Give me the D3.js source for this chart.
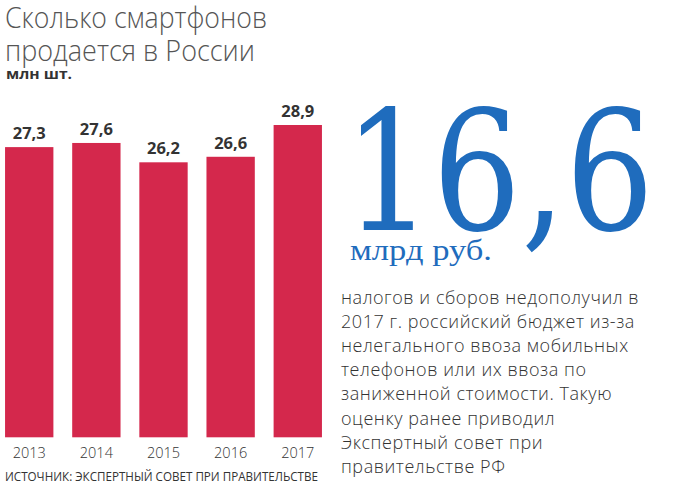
<!DOCTYPE html>
<html><head><meta charset="utf-8">
<script src="https://cdn.jsdelivr.net/npm/d3@7"></script>
<style>body{margin:0;background:#fff}svg{display:block}</style>
</head><body>
<script>
const years = ["2013","2014","2015","2016","2017"];
const values = [27.3, 27.6, 26.2, 26.6, 28.9];
const valueLabels = ["27,3","27,6","26,2","26,6","28,9"];
const titleLines = ["Сколько смартфонов","продается в России"];
const unitLabel = "млн шт.";
const sourceText = "ИСТОЧНИК: ЭКСПЕРТНЫЙ СОВЕТ ПРИ ПРАВИТЕЛЬСТВЕ";
const bigNumber = "16,6";
const bigUnit = "млрд руб.";
const paragraph = ["налогов и сборов недополучил в","2017 г. российский бюджет из-за","нелегального ввоза мобильных","телефонов или их ввоза по","заниженной стоимости. Такую","оценку ранее приводил","Экспертный совет при","правительстве РФ"];

const W = 695, H = 492;
const svg = d3.select("body").append("svg").attr("width", W).attr("height", H);
const sans = "'Open Sans', 'Noto Sans', sans-serif";
const titleWidths = [262, 250];

svg.selectAll("text.title").data(titleLines).join("text")
  .attr("x", 5).attr("y", (d,i)=>28 + i*33)
  .attr("font-family", sans).attr("font-weight", 300).attr("font-size", 30)
  .attr("textLength", (d,i)=>titleWidths[i]).attr("lengthAdjust","spacingAndGlyphs")
  .attr("fill", "#555").text(d=>d);
svg.append("text").attr("x", 6).attr("y", 79).attr("font-family", sans)
  .attr("font-weight", 700).attr("font-size", 15).attr("fill", "#333")
  .attr("textLength", 66).attr("lengthAdjust","spacingAndGlyphs").text(unitLabel);

const x = d3.scaleBand().domain(years).range([-3, 330]).paddingInner(0.28).paddingOuter(0.12);
const y = d3.scaleLinear().domain([6.3, 28.9]).range([437.3, 125]);

svg.selectAll("rect.bar").data(values).join("rect")
  .attr("x", (d,i)=>x(years[i])).attr("width", x.bandwidth())
  .attr("y", d=>y(d)).attr("height", d=>y.range()[0]-y(d))
  .attr("fill", "#d4284c");

svg.selectAll("text.val").data(values).join("text")
  .attr("x", (d,i)=>x(years[i])+x.bandwidth()/2).attr("y", d=>y(d)-8)
  .attr("text-anchor","middle").attr("font-family", sans).attr("font-weight", 700)
  .attr("font-size", 16.5).attr("fill", "#333").text((d,i)=>valueLabels[i]);

const xAxis = svg.append("g").attr("transform", `translate(0,${y.range()[0]})`)
  .call(d3.axisBottom(x).tickSize(0).tickPadding(10));
xAxis.select(".domain").remove();
xAxis.selectAll("text").attr("font-family", sans).attr("font-weight", 300)
  .attr("font-size", 14.5).attr("fill", "#333");

svg.append("text").attr("x", 5).attr("y", 481).attr("font-family", "'Liberation Sans Narrow', 'Open Sans', sans-serif")
  .attr("font-size", 12.5).attr("fill", "#333").attr("textLength", 313)
  .attr("lengthAdjust","spacingAndGlyphs").text(sourceText);

svg.append("text").attr("x", 344).attr("y", 230).attr("font-family", "'DejaVu Serif', 'Liberation Serif', serif")
  .attr("font-size", 167).attr("fill", "#1f6cbd").attr("textLength", 310)
  .attr("lengthAdjust","spacingAndGlyphs").text(bigNumber);
svg.append("text").attr("x", 350).attr("y", 260).attr("font-family", "'Liberation Serif', 'DejaVu Serif', serif")
  .attr("font-size", 30).attr("fill", "#1f6cbd").attr("textLength", 142)
  .attr("lengthAdjust","spacingAndGlyphs").text(bigUnit);

svg.selectAll("text.para").data(paragraph).join("text")
  .attr("x", 341).attr("y", (d,i)=>304 + i*24.1)
  .attr("font-family", sans).attr("font-weight", 300).attr("font-size", 18)
  .attr("letter-spacing", 0.55)
  .attr("fill", "#333").text(d=>d);
</script>
</body></html>
